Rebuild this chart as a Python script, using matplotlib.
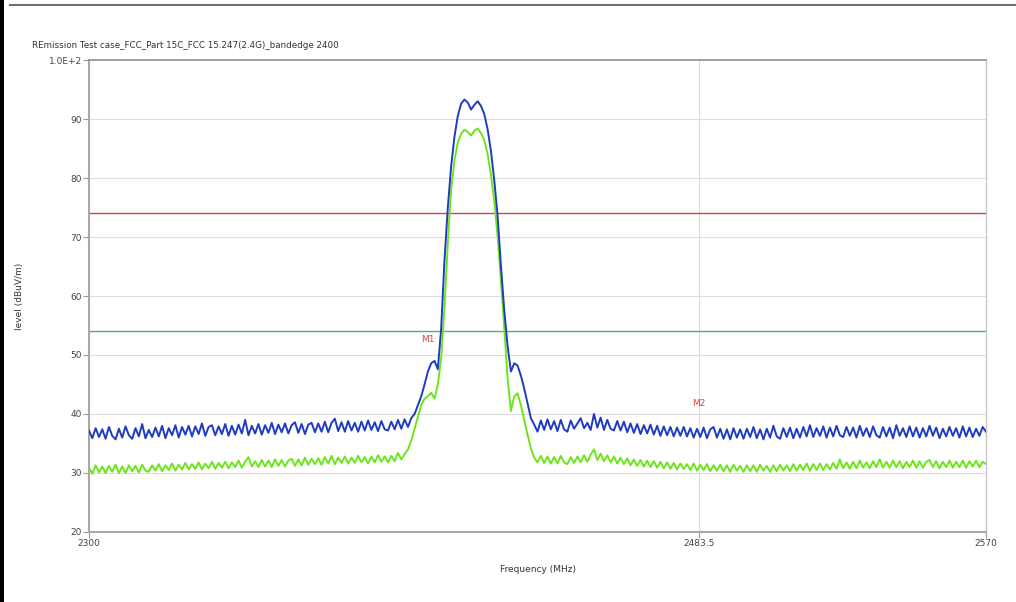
import numpy as np
import matplotlib
matplotlib.use('Agg')
import matplotlib.pyplot as plt
from matplotlib.lines import Line2D
from matplotlib.patches import Rectangle

# spectrum traces, one value per MHz from 2300 to 2570
freq = np.arange(2300, 2571, 1)

peak_trace = [
    37.2, 35.9, 37.6, 36.1, 37.4, 35.8, 37.8, 36.3, 35.7, 37.5,
    36.0, 37.9, 36.4, 35.8, 37.6, 36.2, 38.3, 35.9, 37.3, 36.1,
    37.7, 36.2, 38.0, 35.9, 37.6, 36.4, 38.1, 36.0, 37.8, 36.5,
    38.0, 36.2, 37.9, 36.6, 38.4, 36.3, 37.8, 38.1, 36.4, 37.9,
    36.6, 38.3, 36.3, 38.0, 36.5, 38.2, 36.7, 39.0, 36.4, 38.0,
    36.7, 38.3, 36.5, 38.1, 36.8, 38.5, 36.6, 38.2, 36.9, 38.4,
    36.7, 38.1, 38.6, 36.8, 38.3, 36.6, 38.2, 38.5, 36.9, 38.4,
    37.0, 38.7, 36.9, 38.5, 39.2, 37.1, 38.6, 37.0, 38.8, 37.2,
    38.5, 37.0, 38.7, 37.2, 38.9, 37.3, 38.6, 37.1, 38.8, 37.4,
    37.2, 38.7, 37.4, 39.0, 37.5, 39.1, 37.8, 39.3, 40.0, 41.5,
    43.0, 45.0, 47.2, 48.6, 49.0, 47.6, 54.5, 66.0, 75.0, 82.0,
    87.0, 90.5, 92.6, 93.3, 92.8, 91.6, 92.4, 93.0, 92.2, 90.8,
    88.2, 84.5, 79.5, 73.5, 65.0, 57.5, 51.5, 47.2, 48.6, 48.2,
    46.5, 44.3, 41.8, 39.3, 38.2, 37.0, 38.9, 37.3, 39.1, 37.4,
    38.8, 37.1, 39.0, 37.4, 37.0, 38.9, 37.5, 38.4, 39.3, 37.6,
    38.5, 37.3, 40.0, 37.7, 39.4, 37.3, 39.0, 37.5, 37.2, 38.8,
    37.2, 38.7, 36.9, 38.4, 36.8, 38.3, 36.6, 38.1, 36.7, 38.2,
    36.5, 38.0, 36.3, 37.9, 36.4, 37.8, 36.2, 37.7, 36.3, 37.8,
    36.2, 37.6, 36.0, 37.5, 36.1, 37.7, 35.9, 37.4, 37.8, 36.0,
    37.5, 35.8, 37.4, 35.7, 37.6, 36.0, 37.4, 35.8, 37.5, 36.1,
    37.8, 35.9, 37.4, 35.7, 37.5, 36.0, 38.0, 36.2, 35.8, 37.6,
    36.1, 37.7, 35.9, 37.5, 36.0, 37.8, 36.2, 38.1, 36.1, 37.6,
    36.3, 37.9, 36.0, 37.7, 36.2, 38.0, 36.4, 36.1, 37.8, 36.3,
    37.7, 36.0, 38.0, 36.3, 37.6, 36.1, 37.9, 36.4, 36.0, 37.8,
    36.2, 37.7, 35.9, 38.1, 36.3, 37.6, 36.1, 37.9, 36.2, 37.7,
    36.0, 37.6, 36.2, 38.0, 36.3, 37.7, 35.9, 37.5, 36.2, 37.8,
    36.3, 37.6, 36.0, 37.9, 36.2, 37.7, 36.1, 37.5, 36.3, 37.8,
    37.0,
]

avg_trace = [
    30.9, 29.9, 31.3, 30.1, 31.1, 30.0, 31.2, 30.2, 31.4, 30.0,
    31.1, 30.0, 31.3, 30.3, 31.2, 30.1, 31.4, 30.4, 30.2, 31.3,
    30.4, 31.5, 30.3, 31.3, 30.5, 31.6, 30.4, 31.4, 30.6, 31.7,
    30.6, 31.5, 30.7, 31.8, 30.6, 31.6, 30.8, 31.9, 30.7, 31.7,
    30.9, 31.9, 30.8, 31.8, 31.0, 32.1, 30.9, 31.9, 32.7, 31.1,
    32.0, 31.0, 32.2, 31.1, 32.1, 31.0, 32.3, 31.2, 32.2, 31.1,
    32.1, 32.4, 31.2, 32.3, 31.3, 32.6, 31.4, 32.4, 31.5, 32.5,
    31.4, 32.7, 31.6, 32.9, 31.5, 32.6, 31.7, 32.8, 31.6, 32.6,
    31.7, 32.9, 31.8, 32.7, 31.6, 32.8, 31.8, 33.0, 31.9, 32.8,
    31.8, 32.9, 32.0, 33.4, 32.3, 33.2, 34.0, 35.5, 37.5, 39.5,
    41.5, 42.6, 43.0, 43.6, 42.6, 45.0, 49.5, 58.0, 69.0, 78.0,
    83.0, 86.0, 87.5, 88.2, 87.8, 87.2, 88.0, 88.4, 87.6, 86.4,
    84.0, 80.5, 76.0, 70.0, 62.5, 54.5, 46.0, 40.5, 43.0, 43.5,
    41.5, 39.0, 36.5, 34.2, 32.6, 31.8, 32.9, 31.7, 32.8, 31.6,
    32.7, 31.6, 32.9, 31.8, 31.5, 32.7, 31.7, 32.8, 31.8, 33.0,
    31.9, 33.1, 34.0, 32.2, 33.3, 32.0, 33.0, 31.8, 32.8, 31.6,
    32.6, 31.5, 32.5, 31.3, 32.3, 31.2, 32.2, 31.1, 32.1, 31.0,
    32.0, 30.9, 31.9, 30.8, 31.8, 30.7, 31.7, 30.6, 31.6, 30.7,
    31.5, 30.5, 31.6, 30.4, 31.4, 30.5, 31.5, 30.3, 31.3, 30.4,
    31.4, 30.3, 31.3, 30.2, 31.4, 30.4, 31.2, 30.2, 31.3, 30.3,
    31.3, 30.2, 31.4, 30.4, 31.2, 30.2, 31.3, 30.3, 31.4, 30.4,
    31.3, 30.3, 31.5, 30.4, 31.4, 30.5, 31.6, 30.4, 31.5, 30.5,
    31.6, 30.5, 31.5, 30.6, 31.7, 30.7, 32.3, 30.8, 31.8, 30.7,
    31.9, 30.8, 32.1, 30.9, 31.8, 30.8, 32.0, 31.0, 32.3, 30.9,
    31.9, 30.9, 32.1, 31.0, 32.0, 30.8, 31.9, 31.0, 32.1, 30.9,
    32.0, 30.9, 31.9, 32.2, 31.0, 32.0, 30.8, 31.9, 31.0, 32.1,
    30.9, 31.9, 31.0, 32.1, 30.9, 32.0, 31.1, 32.1, 31.0, 31.9,
    31.5,
]

peak_limit = 74
avg_limit = 54
band_edge = 2483.5

y_ticks = [20, 30, 40, 50, 60, 70, 80, 90, 100]
y_ticklabels = ['20', '30', '40', '50', '60', '70', '80', '90', '1.0E+2']
x_ticks = [2300, 2483.5, 2570]
x_ticklabels = ['2300', '2483.5', '2570']

markers = [('M1', 2402, 52.7), ('M2', 2483.5, 41.8)]

fig = plt.figure(figsize=(10.16, 6.02), dpi=100)
ax = fig.add_axes([0.0876, 0.1163, 0.8829, 0.7840])

for y in y_ticks[1:-1]:
    ax.axhline(y, color='#dcdcdc', lw=0.8, zorder=0)
ax.axvline(band_edge, color='#dcdcdc', lw=0.8, zorder=0)

ax.axhline(peak_limit, color='#cc4444', lw=1.0, zorder=1)
ax.axhline(avg_limit, color='#44b86a', lw=1.0, zorder=1)

ax.plot(freq, peak_trace, color='#1f3cc0', lw=1.4, zorder=3)
ax.plot(freq, avg_trace, color='#6ee41c', lw=1.4, zorder=2)

for name, fx, fy in markers:
    ax.text(fx, fy, name, color='#e04040', fontsize=6.5, ha='center', va='center', zorder=4)

ax.set_xlim(2300, 2570)
ax.set_ylim(20, 100)
ax.set_xticks(x_ticks)
ax.set_xticklabels(x_ticklabels)
ax.set_yticks(y_ticks)
ax.set_yticklabels(y_ticklabels)
ax.tick_params(axis='both', labelsize=6.5, labelcolor='#444444', color='#999999',
               length=4, width=0.8, direction='out', pad=1)

for side in ['left', 'bottom']:
    ax.spines[side].set_color('#a8a8a8')
    ax.spines[side].set_linewidth(1.5)
ax.spines['top'].set_color('#909090')
ax.spines['top'].set_linewidth(1.2)
ax.spines['right'].set_color('#c8c8c8')
ax.spines['right'].set_linewidth(1.0)

ax.set_xlabel('Frequency (MHz)', fontsize=6.5, color='#333333', labelpad=12)
ax.set_ylabel('level (dBuV/m)', fontsize=6.5, color='#333333', labelpad=18)

fig.text(0.0315, 0.925, 'REmission Test case_FCC_Part 15C_FCC 15.247(2.4G)_bandedge 2400',
         fontsize=6.3, color='#333333', va='center', ha='left')

# window frame from the screenshot
fig.add_artist(Rectangle((0, 0), 4 / 1016, 1, transform=fig.transFigure,
                         color='black', lw=0))
fig.add_artist(Line2D([10 / 1016, 1], [1 - 5 / 602, 1 - 5 / 602], transform=fig.transFigure,
                      color='#707070', lw=1.5))

fig.savefig('out.png', dpi=100)
